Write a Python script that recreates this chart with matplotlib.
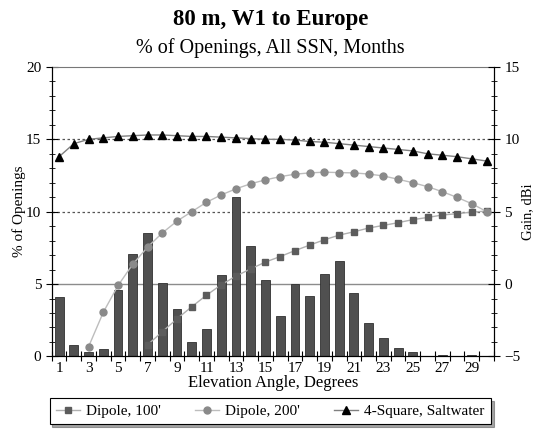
import numpy as np
import matplotlib
matplotlib.use('Agg')
import matplotlib.pyplot as plt
from matplotlib.ticker import MultipleLocator, FixedLocator

plt.rcParams['font.family'] = ['Liberation Serif', 'DejaVu Serif']

# elevation angle categories
angles = list(range(1, 31))

# % of openings (left axis, bars)
openings = [4.1, 0.8, 0.3, 0.5, 4.6, 7.1, 8.5, 5.1, 3.3, 1.0,
            1.9, 5.6, 11.0, 7.6, 5.3, 2.8, 5.0, 4.2, 5.7, 6.6,
            4.4, 2.3, 1.3, 0.6, 0.3, 0.0, 0.1, 0.0, 0.1, 0.0]

# gain, dBi (right axis); None where below the axis
dipole_100 = [None, None, None, None, None, None, -4.2, -3.3, -2.4, -1.57,
              -0.77, -0.05, 0.55, 1.05, 1.52, 1.9, 2.31, 2.69, 3.06, 3.38,
              3.61, 3.87, 4.05, 4.24, 4.45, 4.6, 4.77, 4.86, 4.97, 5.04]
dipole_200 = [None, None, -4.33, -1.95, -0.1, 1.37, 2.55, 3.53, 4.35, 5.0,
              5.65, 6.16, 6.58, 6.93, 7.2, 7.42, 7.59, 7.68, 7.73, 7.7,
              7.68, 7.6, 7.47, 7.24, 7.0, 6.73, 6.38, 5.99, 5.55, 5.01]
four_square = [8.8, 9.7, 10.0, 10.1, 10.2, 10.25, 10.3, 10.3, 10.25, 10.2,
               10.2, 10.15, 10.1, 10.05, 10.0, 10.0, 9.95, 9.85, 9.8, 9.7,
               9.6, 9.5, 9.4, 9.3, 9.2, 9.0, 8.9, 8.8, 8.65, 8.5]

x = np.array(angles)


def to_arr(vals):
    return np.array([np.nan if v is None else v for v in vals], dtype=float)


fig = plt.figure(figsize=(5.36, 4.32), dpi=100)
ax = fig.add_axes([0.0965, 0.175, 0.825, 0.67])

# reference lines
ax.axhline(5, color='#8c8c8c', lw=1.0, zorder=1)
for yv in (10, 15):
    ax.axhline(yv, color='#555555', lw=0.9, ls=(0, (2, 2)), zorder=1)

ax.bar(x, openings, width=0.6, color='#505050', edgecolor='#303030',
       linewidth=0.6, zorder=2)
ax.set_xlim(0.5, 30.5)
ax.set_ylim(0, 20)
ax.yaxis.set_major_locator(MultipleLocator(5))
ax.yaxis.set_minor_locator(MultipleLocator(1))
ax.xaxis.set_major_locator(FixedLocator(angles[::2]))
ax.xaxis.set_minor_locator(FixedLocator(np.arange(0.5, 31, 1)))
ax.tick_params(axis='x', which='major', length=0, pad=4, labelsize=11)
ax.tick_params(axis='x', which='minor', direction='inout', length=7, width=0.8)
ax.tick_params(axis='y', which='major', direction='inout', length=8,
               labelsize=11, width=0.8)
ax.tick_params(axis='y', which='minor', direction='inout', length=4, width=0.6)
ax.set_ylabel('% of Openings', fontsize=11, labelpad=0)
ax.set_xlabel('Elevation Angle, Degrees', fontsize=12, labelpad=0)
ax.spines['top'].set_color('#777777')
for s in ('left', 'right', 'bottom'):
    ax.spines[s].set_linewidth(0.8)

ax2 = ax.twinx()
ax2.set_ylim(-5, 15)
ax2.yaxis.set_major_locator(MultipleLocator(5))
ax2.yaxis.set_minor_locator(MultipleLocator(1))
ax2.tick_params(axis='y', which='major', direction='inout', length=8,
                labelsize=11, width=0.8)
ax2.tick_params(axis='y', which='minor', direction='inout', length=4, width=0.6)
ax2.set_ylabel('Gain, dBi', fontsize=10.5)
ax2.yaxis.set_label_coords(1.062, 0.5)
ax2.spines['top'].set_visible(False)

l1, = ax2.plot(x, to_arr(dipole_100), color='#b0b0b0', lw=1.0, marker='s',
               ms=4.5, mfc='#5c5c5c', mec='#5c5c5c', label="Dipole, 100'")
l2, = ax2.plot(x, to_arr(dipole_200), color='#bdbdbd', lw=1.0, marker='o',
               ms=5, mfc='#8a8a8a', mec='#8a8a8a', label="Dipole, 200'")
l3, = ax2.plot(x, to_arr(four_square), color='#808080', lw=1.0, marker='^',
               ms=5.5, mfc='black', mec='black', label='4-Square, Saltwater')

fig.text(0.505, 0.954, '80 m, W1 to Europe', ha='center', va='center',
         fontsize=16.5, fontweight='bold')
fig.text(0.505, 0.889, '% of Openings, All SSN, Months', ha='center',
         va='center', fontsize=14.5)

leg = fig.legend(handles=[l1, l2, l3], loc='center', ncol=3,
                 bbox_to_anchor=(0.504, 0.048), fontsize=11, frameon=True,
                 fancybox=False, shadow=True, edgecolor='black',
                 handlelength=1.6, handletextpad=0.4, columnspacing=2.2,
                 borderpad=0.4)
leg.get_frame().set_linewidth(0.8)

fig.savefig('out.png', dpi=100)
